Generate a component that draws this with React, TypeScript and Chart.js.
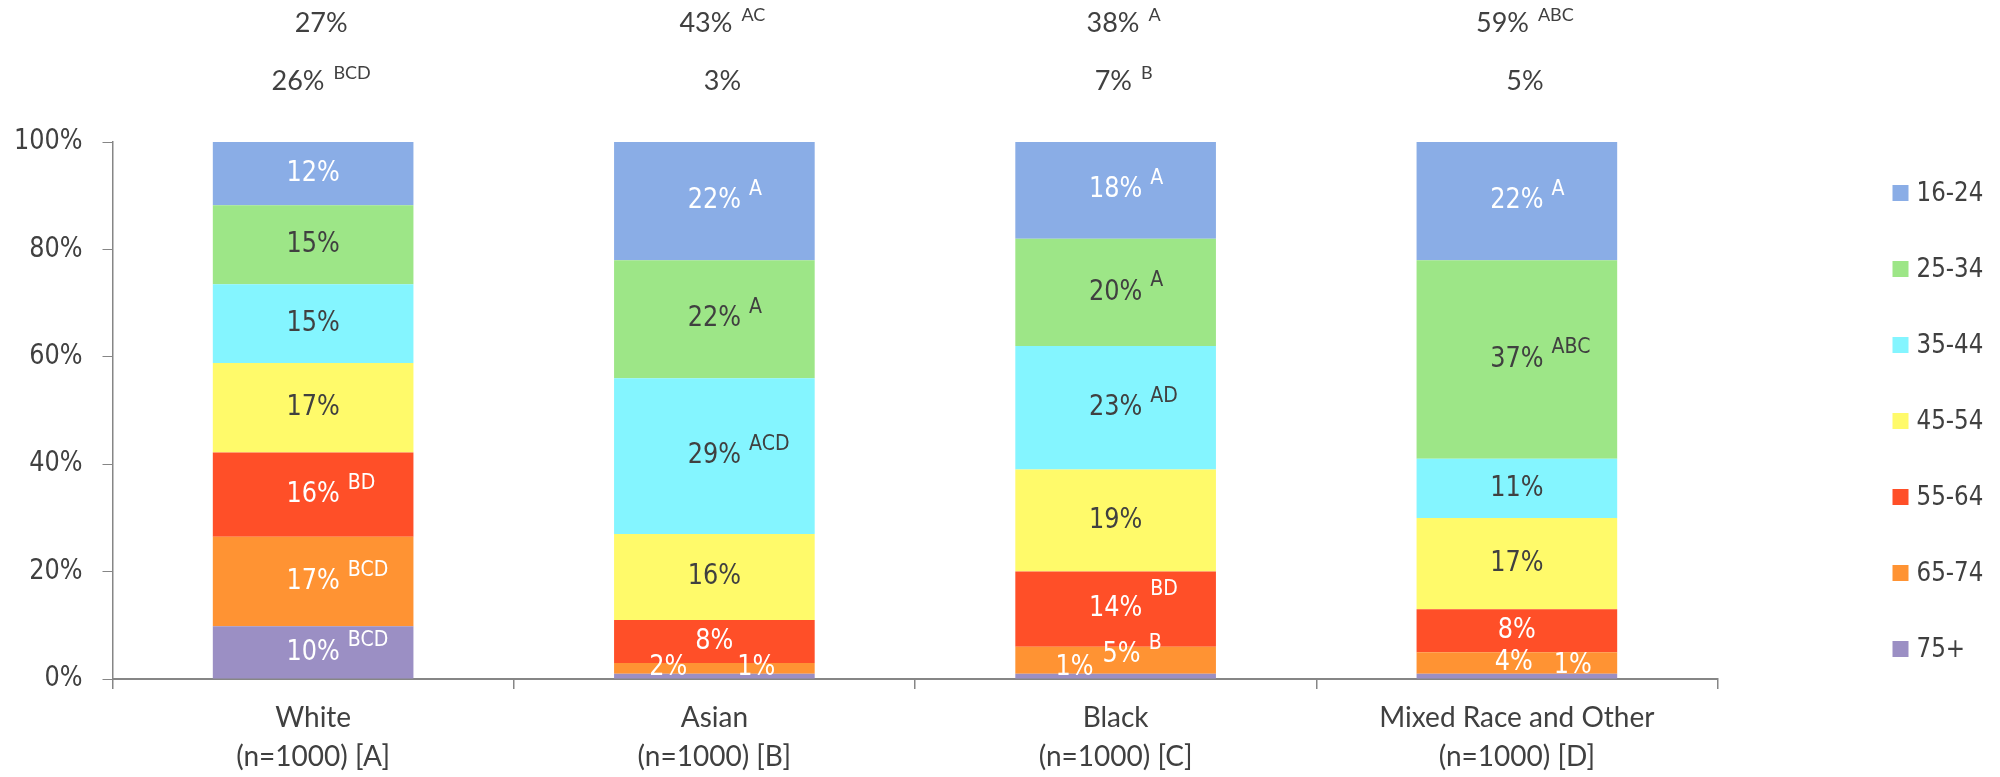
import React, { useEffect, useRef } from "react";
import { Chart, registerables } from "chart.js";

Chart.register(...registerables);

// Ethnic groups on the x axis (two-line labels)
const groupNames = ["White", "Asian", "Black", "Mixed Race and Other"];
const groupBases = ["(n=1000) [A]", "(n=1000) [B]", "(n=1000) [C]", "(n=1000) [D]"];

// Age bands, listed top of the stack first (legend order)
const ageBands = ["16-24", "25-34", "35-44", "45-54", "55-64", "65-74", "75+"];
const bandColors = ["#8AADE6", "#9DE687", "#84F5FF", "#FFFA6A", "#FF4F28", "#FF9333", "#9B8FC4"];
const bandTextColors = ["#FFFFFF", "#404040", "#404040", "#404040", "#FFFFFF", "#FFFFFF", "#FFFFFF"];

// Share of each group in each age band (%)
const age16to24 = [12, 22, 18, 22];
const age25to34 = [15, 22, 20, 37];
const age35to44 = [15, 29, 23, 11];
const age45to54 = [17, 16, 19, 17];
const age55to64 = [16, 8, 14, 8];
const age65to74 = [17, 2, 5, 4];
const age75plus = [10, 1, 1, 1];

// Significance letters shown next to each value
const sig16to24 = ["", "A", "A", "A"];
const sig25to34 = ["", "A", "A", "ABC"];
const sig35to44 = ["", "ACD", "AD", ""];
const sig45to54 = ["", "", "", ""];
const sig55to64 = ["BD", "", "BD", ""];
const sig65to74 = ["BCD", "", "B", ""];
const sig75plus = ["BCD", "", "", ""];

// Summary rows above the bars: aged 16-34 and aged 65+
const under35Totals = [27, 43, 38, 59];
const under35Sig = ["", "AC", "A", "ABC"];
const over65Totals = [26, 3, 7, 5];
const over65Sig = ["BCD", "", "B", ""];

// Y axis tick values (%)
const yTicks = [0, 20, 40, 60, 80, 100];

const bandValues = [age16to24, age25to34, age35to44, age45to54, age55to64, age65to74, age75plus];
const bandSig = [sig16to24, sig25to34, sig35to44, sig45to54, sig55to64, sig65to74, sig75plus];

// Small label offsets for the thin segments at the bottom of the stacks
const labelNudges: Record<string, [number, number]> = {
  "65-74|1": [-46, 0],
  "75+|1": [42, -8],
  "65-74|2": [6, -5],
  "75+|2": [-41, -8],
  "65-74|3": [-3, 0],
  "75+|3": [56, -10],
};
// Extra lift for a few superscripts
const supLift: Record<string, number> = {
  "55-64|2": 8,
};

const DARK = "#404040";
const AXIS = "#868686";
const BAR_FONT = '"DejaVu Sans", sans-serif';
const HEAD_FONT = 'Lato, "Open Sans", sans-serif';
const TALL = 1.15; // vertical stretch of the sans labels

// Each stack is shown as a 100% column
const columnTotals = groupNames.map((_, ci) =>
  bandValues.reduce((s, arr) => s + arr[ci], 0)
);

function tallText(ctx: CanvasRenderingContext2D, text: string, x: number, y: number) {
  ctx.save();
  ctx.translate(x, y);
  ctx.scale(1, TALL);
  ctx.fillText(text, 0, 0);
  ctx.restore();
}

const segmentLabels = {
  id: "segmentLabels",
  afterDatasetsDraw(chart: any) {
    const ctx = chart.ctx as CanvasRenderingContext2D;
    ctx.save();
    chart.data.datasets.forEach((ds: any, di: number) => {
      const meta = chart.getDatasetMeta(di);
      meta.data.forEach((bar: any, ci: number) => {
        const { x, y, base } = bar.getProps(["x", "y", "base"], true);
        const key = `${ds.label}|${ci}`;
        const nudge = labelNudges[key] || [0, 0];
        const tx = x + nudge[0];
        const ty = (y + base) / 2 + nudge[1];
        const text = `${ds.rawValues[ci]}%`;
        ctx.fillStyle = ds.labelColor;
        ctx.font = `24px ${BAR_FONT}`;
        ctx.textAlign = "center";
        ctx.textBaseline = "middle";
        tallText(ctx, text, tx, ty);
        const sup = ds.sigLetters[ci];
        if (sup) {
          const w = ctx.measureText(text).width;
          ctx.font = `19px ${BAR_FONT}`;
          ctx.textAlign = "left";
          ctx.textBaseline = "alphabetic";
          tallText(ctx, sup, tx + w / 2 + 8, ty - 6 - (supLift[key] || 0));
        }
      });
    });
    ctx.restore();
  },
};

const yLabels = {
  id: "yLabels",
  afterDraw(chart: any) {
    const ctx = chart.ctx as CanvasRenderingContext2D;
    const yScale = chart.scales.y;
    const right = chart.chartArea.left - 30;
    ctx.save();
    ctx.fillStyle = DARK;
    ctx.font = `24px ${BAR_FONT}`;
    ctx.textAlign = "right";
    ctx.textBaseline = "middle";
    yTicks.forEach((v) => tallText(ctx, `${v}%`, right, yScale.getPixelForValue(v)));
    ctx.restore();
  },
};

const summaryRows = {
  id: "summaryRows",
  afterDraw(chart: any) {
    const ctx = chart.ctx as CanvasRenderingContext2D;
    const xScale = chart.scales.x;
    const top = chart.chartArea.top;
    const rows = [
      { values: under35Totals, sig: under35Sig, baseline: top - 110 },
      { values: over65Totals, sig: over65Sig, baseline: top - 52 },
    ];
    ctx.save();
    ctx.fillStyle = DARK;
    ctx.textBaseline = "alphabetic";
    ctx.textAlign = "left";
    rows.forEach((row) => {
      row.values.forEach((v, ci) => {
        const cx = xScale.getPixelForValue(ci) + 8;
        const main = `${v}%`;
        ctx.font = `27px ${HEAD_FONT}`;
        const wMain = ctx.measureText(main).width;
        const sup = row.sig[ci];
        ctx.font = `18px ${HEAD_FONT}`;
        const wSup = sup ? ctx.measureText(sup).width + 9 : 0;
        const start = cx - (wMain + wSup) / 2;
        ctx.font = `27px ${HEAD_FONT}`;
        ctx.fillText(main, start, row.baseline);
        if (sup) {
          ctx.font = `18px ${HEAD_FONT}`;
          ctx.fillText(sup, start + wMain + 9, row.baseline - 11);
        }
      });
    });
    ctx.restore();
  },
};

const sideLegend = {
  id: "sideLegend",
  afterDraw(chart: any) {
    const ctx = chart.ctx as CanvasRenderingContext2D;
    const boxX = chart.chartArea.right + 175;
    const firstRow = chart.chartArea.top + 51;
    const step = 76;
    ctx.save();
    ctx.font = `23px ${BAR_FONT}`;
    ctx.textBaseline = "middle";
    ctx.textAlign = "left";
    ageBands.forEach((band, i) => {
      const cy = firstRow + i * step;
      ctx.fillStyle = bandColors[i];
      ctx.fillRect(boxX, cy - 8, 16, 16);
      ctx.fillStyle = DARK;
      tallText(ctx, band, boxX + 24, cy + 1);
    });
    ctx.restore();
  },
};

export default function App() {
  const canvasRef = useRef<HTMLCanvasElement | null>(null);

  useEffect(() => {
    document.body.style.margin = "0";
    document.body.style.overflow = "hidden";
    const canvas = canvasRef.current;
    if (!canvas) return;

    // bottom of the stack first
    const order = [6, 5, 4, 3, 2, 1, 0];
    const datasets = order.map((bi) => ({
      label: ageBands[bi],
      data: bandValues[bi].map((v, ci) => (v / columnTotals[ci]) * 100),
      rawValues: bandValues[bi],
      sigLetters: bandSig[bi],
      labelColor: bandTextColors[bi],
      backgroundColor: bandColors[bi],
      borderWidth: 0,
      categoryPercentage: 1,
      barPercentage: 0.5,
    }));

    const chart = new Chart(canvas, {
      type: "bar",
      data: {
        labels: groupNames.map((n, i) => [n, groupBases[i]]),
        datasets: datasets as any,
      },
      options: {
        animation: false,
        responsive: false,
        devicePixelRatio: 1,
        layout: { padding: { left: 12.5, right: 282.5, top: 142, bottom: 0 } },
        plugins: {
          legend: { display: false },
          tooltip: { enabled: false },
        },
        scales: {
          x: {
            stacked: true,
            offset: true,
            grid: {
              offset: true,
              drawOnChartArea: false,
              drawTicks: true,
              tickLength: 10,
              color: AXIS,
              lineWidth: 1.5,
            },
            border: { color: AXIS, width: 2 },
            ticks: {
              color: DARK,
              padding: 9.5,
              font: { family: HEAD_FONT, size: 28, lineHeight: 39 / 28 },
              maxRotation: 0,
              autoSkip: false,
            },
            afterFit: (scale: any) => {
              scale.height = 98;
            },
          },
          y: {
            stacked: true,
            min: 0,
            max: 100,
            grid: {
              drawOnChartArea: false,
              drawTicks: true,
              tickLength: 10,
              color: AXIS,
              lineWidth: 1,
            },
            border: { color: AXIS, width: 1.5 },
            ticks: {
              stepSize: 20,
              display: false,
            },
            afterFit: (scale: any) => {
              scale.width = 100;
            },
          },
        },
      },
      plugins: [segmentLabels, yLabels, summaryRows, sideLegend],
    });

    return () => chart.destroy();
  }, []);

  return (
    <div style={{ width: 2000, height: 777, background: "#ffffff" }}>
      <canvas ref={canvasRef} width={2000} height={777} />
    </div>
  );
}
